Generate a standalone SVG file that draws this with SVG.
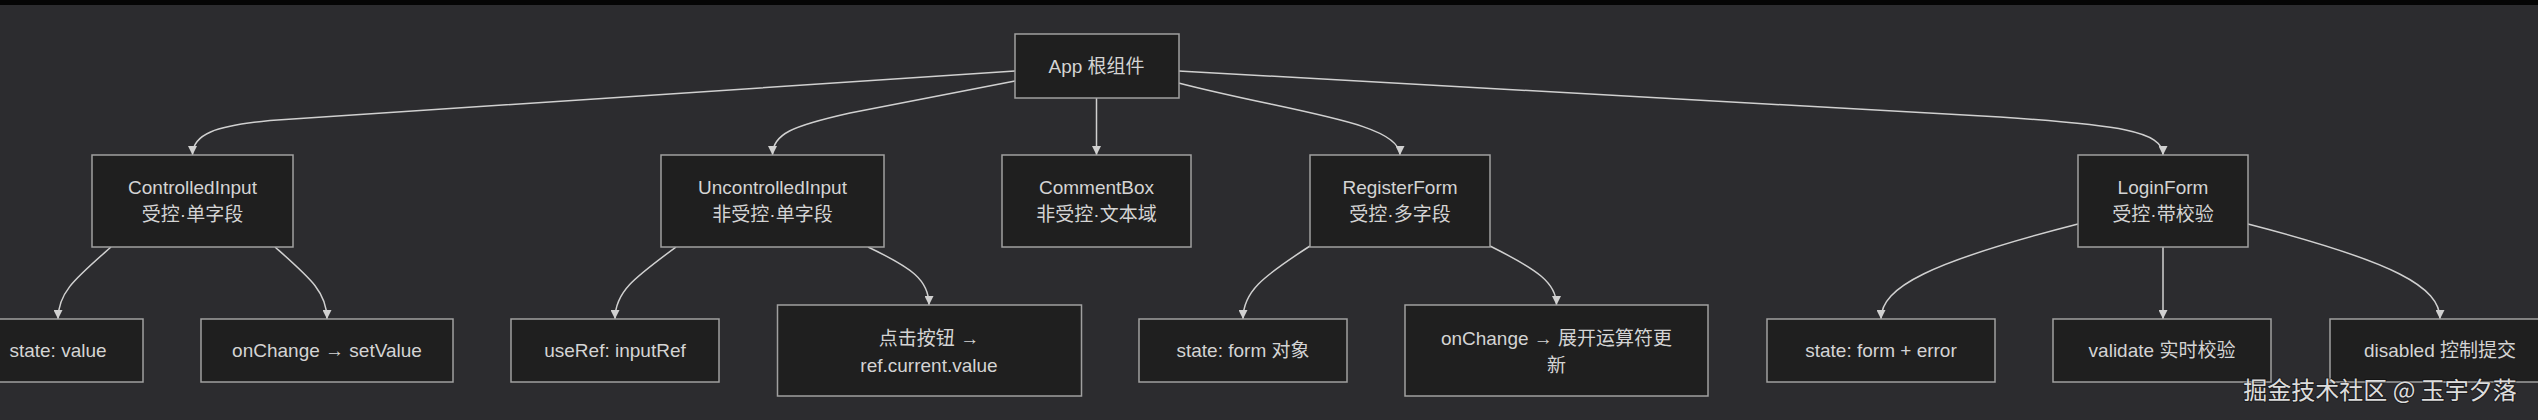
<svg xmlns="http://www.w3.org/2000/svg" width="2538" height="420" viewBox="0 0 2538 420">
<defs>
<style>
.node rect{fill:#1f1f1f;stroke:#a0a0a0;stroke-width:1.5}
.node text{font-family:"Liberation Sans","Noto Sans CJK SC",sans-serif;font-size:19px;fill:#d4d4d4;text-anchor:middle}
.edges path{fill:none;stroke:#d0d0d0;stroke-width:1.5;marker-end:url(#arrow)}
.wm{font-family:"Noto Sans CJK SC","Liberation Sans",sans-serif;font-size:24px;fill:#dcdcdc;text-anchor:middle;stroke:#000;stroke-opacity:0.35;stroke-width:2;paint-order:stroke}
</style>
<marker id="arrow" viewBox="0 0 10 10" refX="10" refY="5" markerWidth="9" markerHeight="9" markerUnits="userSpaceOnUse" orient="auto">
<path d="M0,0 L10,5 L0,10 z" fill="#d0d0d0"/>
</marker>
</defs>
<rect x="0" y="0" width="2538" height="420" fill="#2c2c2f"/>
<rect x="0" y="0" width="2538" height="5" fill="#050505"/>

<g class="edges" id="edges">
<path d="M1015,71 L270,120.5 C215,126 192.5,134 192.5,155"/>
<path d="M1015,81 L850,113 C792,126 772.5,134 772.5,155"/>
<path d="M1096.5,98 L1096.5,155"/>
<path d="M1178.5,83 C1290,112 1400,122 1400,155"/>
<path d="M1178.5,71 L2000,117 C2118,125 2163,131 2163,155"/>
<path d="M111,247 C76,278 58,292 58,319"/>
<path d="M275,247 C310,278 327,292 327,319"/>
<path d="M676,247 C634,278 615,292 615,319"/>
<path d="M868,247 C912,268 929,280 929,305"/>
<path d="M1310,246 C1262,277 1243,292 1243,319"/>
<path d="M1490,246 C1538,270 1556.5,283 1556.5,305"/>
<path d="M2078,224 C1930,262 1881,287 1881,319"/>
<path d="M2163,247 L2163,319"/>
<path d="M2248,224 C2395,262 2440,287 2440,319"/>
</g>

<g class="node" id="app">
<rect x="1015" y="34" width="164" height="64"/>
<text x="1096.5" y="73">App 根组件</text>
</g>
<g class="node" id="controlledInput">
<rect x="92" y="155" width="201" height="92"/>
<text x="192.5" y="194">ControlledInput</text>
<text x="192.5" y="221">受控·单字段</text>
</g>
<g class="node" id="uncontrolledInput">
<rect x="661" y="155" width="223" height="92"/>
<text x="772.5" y="194">UncontrolledInput</text>
<text x="772.5" y="221">非受控·单字段</text>
</g>
<g class="node" id="commentBox">
<rect x="1002" y="155" width="189" height="92"/>
<text x="1096.5" y="194">CommentBox</text>
<text x="1096.5" y="221">非受控·文本域</text>
</g>
<g class="node" id="registerForm">
<rect x="1310" y="155" width="180" height="92"/>
<text x="1400" y="194">RegisterForm</text>
<text x="1400" y="221">受控·多字段</text>
</g>
<g class="node" id="loginForm">
<rect x="2078" y="155" width="170" height="92"/>
<text x="2163" y="194">LoginForm</text>
<text x="2163" y="221">受控·带校验</text>
</g>
<g class="node" id="stateValue">
<rect x="-27" y="319" width="170" height="63"/>
<text x="58" y="357">state: value</text>
</g>
<g class="node" id="onChangeSetValue">
<rect x="201" y="319" width="252" height="63"/>
<text x="327" y="357">onChange → setValue</text>
</g>
<g class="node" id="useRef">
<rect x="511" y="319" width="208" height="63"/>
<text x="615" y="357">useRef: inputRef</text>
</g>
<g class="node" id="clickButton">
<rect x="777.5" y="305" width="304" height="91"/>
<text x="929" y="345">点击按钮 →</text>
<text x="929" y="372">ref.current.value</text>
</g>
<g class="node" id="stateForm">
<rect x="1139" y="319" width="208" height="63"/>
<text x="1243" y="357">state: form 对象</text>
</g>
<g class="node" id="onChangeSpread">
<rect x="1405" y="305" width="303" height="91"/>
<text x="1556.5" y="345">onChange → 展开运算符更</text>
<text x="1556.5" y="372">新</text>
</g>
<g class="node" id="stateFormError">
<rect x="1767" y="319" width="228" height="63"/>
<text x="1881" y="357">state: form + error</text>
</g>
<g class="node" id="validate">
<rect x="2053" y="319" width="218" height="63"/>
<text x="2162" y="357">validate 实时校验</text>
</g>
<g class="node" id="disabled">
<rect x="2330" y="319" width="220" height="63"/>
<text x="2440" y="357">disabled 控制提交</text>
</g>

<text class="wm" x="2380" y="399">掘金技术社区 @ 玉宇夕落</text>
</svg>
